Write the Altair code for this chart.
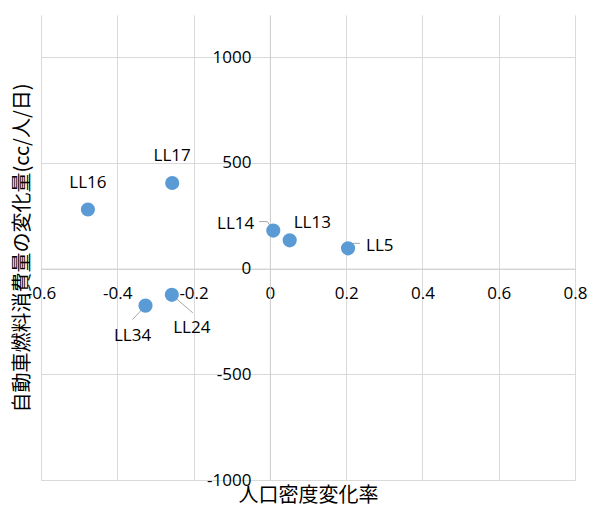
import altair as alt
import pandas as pd

# Change in population density vs. change in car fuel use per person
labels = ["LL16", "LL17", "LL14", "LL13", "LL5", "LL34", "LL24"]
density_change = [-0.477, -0.256, 0.009, 0.052, 0.205, -0.326, -0.257]
fuel_change = [280, 405, 180, 134, 96, -175, -124]

x_ticks = [-0.6, -0.4, -0.2, 0, 0.2, 0.4, 0.6, 0.8]
y_ticks = [-1000, -500, 0, 500, 1000]

df = pd.DataFrame({"label": labels, "x": density_change, "y": fuel_change})

W, H = 534, 465
X_DOM = [-0.6, 0.8]
Y_DOM = [-1000, 1200]
# pixel positions of the zero lines, so both axes cross at the origin
x_zero_px = (0 - X_DOM[0]) / (X_DOM[1] - X_DOM[0]) * W
y_zero_px = (Y_DOM[1] - 0) / (Y_DOM[1] - Y_DOM[0]) * H

TICK_FONT = "Open Sans"
CJK_FONT = "Noto Sans CJK JP"
GRID = "#D9D9D9"
BLUE = "#5B9BD5"
LEADER = "#A6A6A6"

fmt = "replace(format(datum.value, '{}'), '\u2212', '-')"

x_enc = alt.X(
    "x:Q",
    scale=alt.Scale(domain=X_DOM, nice=False, zero=False),
    axis=alt.Axis(
        values=x_ticks,
        labelExpr=fmt.format(".1~f"),
        offset=-(H - y_zero_px),
        grid=True, gridColor=GRID, gridWidth=1,
        domain=True, domainColor="#CFCFCF", domainWidth=1,
        ticks=False,
        labelPadding=17, labelFont=TICK_FONT, labelFontSize=17,
        labelColor="#000000", labelFlush=False, labelOverlap=False,
        title="人口密度変化率", titleFont=CJK_FONT, titleFontSize=20,
        titleFontWeight="normal", titleColor="#000000",
        titleBaseline="middle", titleY=(480 - 15) - y_zero_px + 15,
    ),
)
y_enc = alt.Y(
    "y:Q",
    scale=alt.Scale(domain=Y_DOM, nice=False, zero=False),
    axis=alt.Axis(
        values=y_ticks,
        labelExpr=fmt.format("d"),
        offset=-x_zero_px,
        grid=True, gridColor=GRID, gridWidth=1,
        domain=True, domainColor="#CFCFCF", domainWidth=1,
        ticks=False,
        labelPadding=19, labelFont=TICK_FONT, labelFontSize=17,
        labelColor="#000000", labelFlush=False, labelOverlap=False,
        title="自動車燃料消費量の変化量(cc/人/日)", titleFont=CJK_FONT,
        titleFontSize=20, titleFontWeight="normal", titleColor="#000000",
        titleBaseline="middle", titleAngle=270, titleX=-19 - x_zero_px,
    ),
)

base = alt.Chart(df)

points = base.mark_circle(size=200, color=BLUE, opacity=1).encode(x=x_enc, y=y_enc)

# label placement (pixels from the point centre) and alignment
label_style = {
    "LL16": dict(dx=0, dy=-26, align="center"),
    "LL17": dict(dx=0, dy=-27, align="center"),
    "LL14": dict(dx=-19, dy=-7, align="right"),
    "LL13": dict(dx=4, dy=-17, align="left"),
    "LL5": dict(dx=18, dy=-2, align="left"),
    "LL34": dict(dx=-13, dy=30, align="center"),
    "LL24": dict(dx=20, dy=33, align="center"),
}
# leader line segments: (x1, y1, x2, y2) in pixels from the point centre
leaders = {
    "LL14": [(-14, -9, -6, -9), (-6, -9, 0, 0)],
    "LL5": [(0, 0, 5, -5), (5, -5, 12, -5)],
    "LL34": [(0, 0, -13, 14)],
    "LL24": [(0, 0, 21, 18)],
}

layers = []
for name, segs in leaders.items():
    for (ax, ay, bx, by) in segs:
        layers.append(
            base.transform_filter(alt.datum.label == name)
            .mark_rule(color=LEADER, strokeWidth=1,
                       xOffset=ax, yOffset=ay, x2Offset=bx, y2Offset=by)
            .encode(x="x:Q", y="y:Q", x2="x:Q", y2="y:Q")
        )

layers.append(points)

for name, st in label_style.items():
    layers.append(
        base.transform_filter(alt.datum.label == name)
        .mark_text(font=TICK_FONT, fontSize=17, color="#000000",
                   baseline="middle", **st)
        .encode(x="x:Q", y="y:Q", text="label:N")
    )

chart = (
    alt.layer(*layers)
    .properties(
        width=W, height=H,
        autosize=alt.AutoSizeParams(type="none"),
        padding={"left": 41, "top": 15, "right": 22, "bottom": 27},
        background="white",
    )
    .configure_view(strokeWidth=0)
)

chart.save("out.html", embed_options={"renderer": "svg", "actions": False})
